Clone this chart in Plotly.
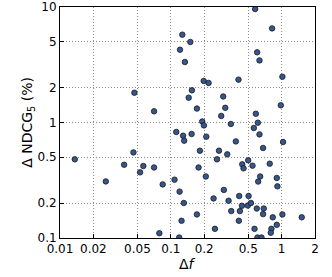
import plotly.graph_objects as go

# delta f (x) and delta NDCG@5 in % (y)
delta_f = [
    0.0469, 0.0706, 0.577, 0.820, 0.127, 0.150, 0.121, 0.134, 0.601, 0.631,
    0.198, 0.219, 0.408, 1.016, 0.155, 0.145, 0.297, 0.172, 0.310, 0.285,
    0.982, 0.585, 0.192, 0.199, 0.348, 0.610, 0.561, 0.631, 0.112, 0.129,
    0.154, 0.209, 0.132, 0.386, 0.680, 1.030, 0.183, 0.272, 0.323, 0.261,
    0.499, 0.178, 0.441, 0.453, 0.546, 0.781, 0.207, 0.108, 0.640, 0.614,
    0.904, 0.916, 0.120, 0.301, 0.243, 0.414, 0.503, 0.131, 0.332, 0.438,
    0.495, 0.528, 0.597, 0.690, 0.172, 0.351, 0.420, 0.680, 0.832, 1.016,
    1.518, 0.125, 0.411, 0.904, 0.250, 0.569, 0.809, 0.798, 0.119, 0.605,
    0.658, 0.0136, 0.0259, 0.0379, 0.0460, 0.0528, 0.0565, 0.0706, 0.0845, 0.0788,
]
delta_ndcg = [
    1.81, 1.25, 9.6, 6.53, 5.76, 4.98, 4.27, 3.34, 4.05, 3.45,
    2.29, 2.20, 2.35, 2.49, 1.90, 1.64, 1.68, 1.32, 1.34, 1.14,
    1.41, 1.19, 1.02, 0.944, 0.971, 0.996, 0.896, 0.789, 0.828, 0.769,
    0.795, 0.754, 0.696, 0.686, 0.602, 0.678, 0.570, 0.570, 0.530, 0.480,
    0.470, 0.408, 0.434, 0.401, 0.423, 0.440, 0.341, 0.320, 0.341, 0.308,
    0.331, 0.280, 0.252, 0.261, 0.220, 0.231, 0.231, 0.201, 0.210, 0.190,
    0.191, 0.201, 0.180, 0.180, 0.160, 0.171, 0.171, 0.161, 0.151, 0.160,
    0.151, 0.141, 0.141, 0.130, 0.120, 0.120, 0.120, 0.111, 0.101, 0.101,
    0.101, 0.480, 0.309, 0.431, 0.551, 0.370, 0.420, 0.408, 0.291, 0.110,
]

x_ticks = [0.01, 0.02, 0.05, 0.1, 0.2, 0.5, 1, 2]
x_labels = ["0.01", "0.02", "0.05", "0.1", "0.2", "0.5", "1", "2"]
y_ticks = [0.1, 0.2, 0.5, 1, 2, 5, 10]
y_labels = ["0.1", "0.2", "0.5", "1", "2", "5", "10"]

fig = go.Figure()
fig.add_trace(go.Scatter(
    x=delta_f, y=delta_ndcg, mode="markers",
    marker=dict(size=5.5, color="#35568e", line=dict(color="#1a1a1a", width=0.8)),
    cliponaxis=True,
))

axis_style = dict(
    type="log", automargin=False,
    showline=True, linecolor="black", linewidth=1, mirror=True,
    showgrid=True, gridcolor="#8c8c8c", griddash="1px,2px", gridwidth=1,
    ticks="inside", ticklen=4, tickcolor="black",
    tickfont=dict(family="DejaVu Sans", size=12, color="black"),
    zeroline=False,
)

fig.update_xaxes(**axis_style, range=[-2, 0.30103], tickvals=x_ticks, ticktext=x_labels)
fig.update_yaxes(**axis_style, range=[-1, 1], tickvals=y_ticks, ticktext=y_labels)

title_font = dict(family="DejaVu Sans", size=14, color="black")
fig.add_annotation(text="Δ<i>f</i>", xref="paper", yref="paper", x=0.5, y=-0.112,
                   showarrow=False, font=title_font, xanchor="center", yanchor="middle")
fig.add_annotation(text="Δ NDCG<sub>5</sub> (%)", xref="paper", yref="paper", x=-0.128, y=0.5,
                   showarrow=False, font=title_font, textangle=-90,
                   xanchor="center", yanchor="middle")

fig.update_layout(
    width=332, height=277,
    margin=dict(l=60, r=17, t=7, b=39),
    paper_bgcolor="white", plot_bgcolor="white",
    showlegend=False,
)

# browser default body margin would shift the figure by 8px
fig.write_html("out.html", config={"displayModeBar": False},
               post_script="document.body.style.margin='0';")
